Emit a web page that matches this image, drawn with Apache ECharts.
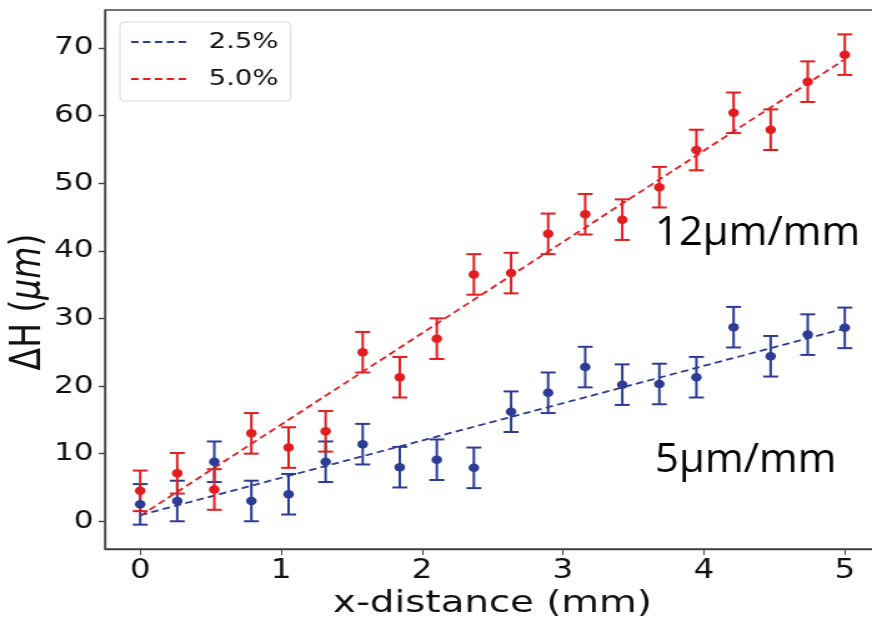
<!DOCTYPE html>
<html><head><meta charset="utf-8">
<script src="https://cdn.jsdelivr.net/npm/echarts@6/dist/echarts.min.js"></script>
<style>
html,body{margin:0;padding:0;background:#fff;overflow:hidden}
#wrap{width:872px;height:622px;overflow:hidden}
#c{width:698px;height:622px;transform:scaleX(1.2493);transform-origin:0 0}
</style>
</head><body><div id="wrap"><div id="c"></div></div>
<script>
const xValues = [0, 0.263, 0.526, 0.789, 1.053, 1.316, 1.579, 1.842, 2.105, 2.368, 2.632, 2.895, 3.158, 3.421, 3.684, 3.947, 4.211, 4.474, 4.737, 5.0];
const blueValues = [2.5, 3.0, 8.8, 3.0, 4.0, 8.8, 11.4, 8.0, 9.1, 7.9, 16.2, 19.0, 22.8, 20.2, 20.3, 21.3, 28.7, 24.4, 27.6, 28.6];
const redValues = [4.5, 7.1, 4.7, 13.0, 10.9, 13.3, 25.0, 21.3, 27.0, 36.5, 36.7, 42.5, 45.4, 44.6, 49.4, 54.9, 60.4, 57.9, 65.0, 69.0];
const blueErr = [3,3,3,3,3,3,3,3,3,3,3,3,3,3,3,3,3,3,3,3];
const redErr = [3,3,3,3,3,3,3,3,3,3,3,3,3,3,3,3,3,3,3,3];
const fitX = [0, 5];
const blueFit = [0.9, 28.5];
const redFit = [0.8, 68.3];
const seriesNames = ['2.5%', '5.0%'];
const xTicks = [0, 1, 2, 3, 4, 5];
const yTicks = [0, 10, 20, 30, 40, 50, 60, 70];
const annotations = ['12μm/mm', '5μm/mm'];
const yTitle = 'ΔH (μm)';

const BLUE = '#2c3c94';
const RED = '#e21d1f';
const SX = 1.2493;

function errData(vals, errs) {
  return xValues.map((x, i) => [x, vals[i] - errs[i], vals[i] + errs[i]]);
}
function errSeries(vals, errs, color) {
  return {
    type: 'custom',
    data: errData(vals, errs),
    encode: { x: 0, y: [1, 2] },
    z: 3,
    silent: true,
    renderItem: function (params, api) {
      const x = api.value(0);
      const lo = api.coord([x, api.value(1)]);
      const hi = api.coord([x, api.value(2)]);
      const w = 6;
      const st = { stroke: color, lineWidth: 2 };
      return {
        type: 'group',
        children: [
          { type: 'line', shape: { x1: lo[0], y1: lo[1], x2: hi[0], y2: hi[1] }, style: st },
          { type: 'line', shape: { x1: lo[0] - w, y1: lo[1], x2: lo[0] + w, y2: lo[1] }, style: st },
          { type: 'line', shape: { x1: hi[0] - w, y1: hi[1], x2: hi[0] + w, y2: hi[1] }, style: st }
        ]
      };
    }
  };
}

const chart = echarts.init(document.getElementById('c'), null, { renderer: 'canvas' });
const tickFont = 'DejaVu Sans';
chart.setOption({
  animation: false,
  backgroundColor: '#fff',
  grid: { left: 84, top: 10, width: 620.4, height: 539, outerBoundsMode: 'none', containLabel: false,
          show: true, borderColor: '#444', borderWidth: 1.4, backgroundColor: 'transparent' },
  legend: {
    left: 96, top: 22, orient: 'vertical',
    padding: [9, 10, 11, 8],
    itemWidth: 45, itemHeight: 22, itemGap: 15,
    backgroundColor: 'rgba(255,255,255,0.85)',
    borderColor: '#d9d9d9', borderWidth: 1, borderRadius: 4,
    itemStyle: { opacity: 0 },
    lineStyle: { width: 1.8 },
    textStyle: { fontFamily: tickFont, fontSize: 22, color: '#111', padding: [0, 0, 0, 12] },
    data: seriesNames
  },
  xAxis: {
    type: 'value', min: -0.25, max: 5.25,
    name: 'x-distance (mm)', nameLocation: 'middle', nameGap: 39,
    nameTextStyle: { fontFamily: tickFont, fontSize: 31, color: '#111' },
    axisLine: { show: true, onZero: false, lineStyle: { color: '#444', width: 1.4 } },
    axisTick: { show: true, length: 6, customValues: xTicks, lineStyle: { color: '#444', width: 1 } },
    axisLabel: { customValues: xTicks, margin: 9, fontFamily: tickFont, fontSize: 26, color: '#111' },
    splitLine: { show: false }
  },
  yAxis: {
    type: 'value', min: -4.1, max: 75.6,
    axisLine: { show: true, onZero: false, lineStyle: { color: '#444', width: 1.2 } },
    axisTick: { show: true, length: 5, customValues: yTicks, lineStyle: { color: '#444', width: 1.4 } },
    axisLabel: { customValues: yTicks, margin: 9, fontFamily: tickFont, fontSize: 25, color: '#111' },
    splitLine: { show: false }
  },
  series: [
    {
      name: seriesNames[0], type: 'line', symbol: 'none', z: 2,
      data: fitX.map((x, i) => [x, blueFit[i]]),
      lineStyle: { color: BLUE, width: 1.8, type: [6, 3.5] }, itemStyle: { color: BLUE }
    },
    {
      name: seriesNames[1], type: 'line', symbol: 'none', z: 2,
      data: fitX.map((x, i) => [x, redFit[i]]),
      lineStyle: { color: RED, width: 1.8, type: [6, 3.5] }, itemStyle: { color: RED }
    },
    errSeries(blueValues, blueErr, BLUE),
    errSeries(redValues, redErr, RED),
    {
      type: 'scatter', symbolSize: 8.5, z: 4, silent: true,
      data: xValues.map((x, i) => [x, blueValues[i]]),
      itemStyle: { color: BLUE, opacity: 1 }
    },
    {
      type: 'scatter', symbolSize: 8.5, z: 4, silent: true,
      data: xValues.map((x, i) => [x, redValues[i]]),
      itemStyle: { color: RED, opacity: 1 }
    }
  ],
  graphic: [
    { type: 'text', x: 29 / SX, y: 302, rotation: Math.PI / 2,
      style: { text: '{a|ΔH (}{b|μm}{a|)}', align: 'center', verticalAlign: 'middle',
        rich: {
          a: { fontFamily: tickFont, fontSize: 33, fill: '#111' },
          b: { fontFamily: tickFont, fontSize: 33, fill: '#111', fontStyle: 'italic' }
        } }, z: 10 },
    { type: 'text', x: 655 / SX, y: 214, scaleX: 1.046 / SX, style: { text: annotations[0], font: '40px "Open Sans"', fill: '#000' }, z: 10 },
    { type: 'text', x: 655 / SX, y: 441, scaleX: 1.046 / SX, style: { text: annotations[1], font: '40px "Open Sans"', fill: '#000' }, z: 10 }
  ]
});
</script></body></html>
